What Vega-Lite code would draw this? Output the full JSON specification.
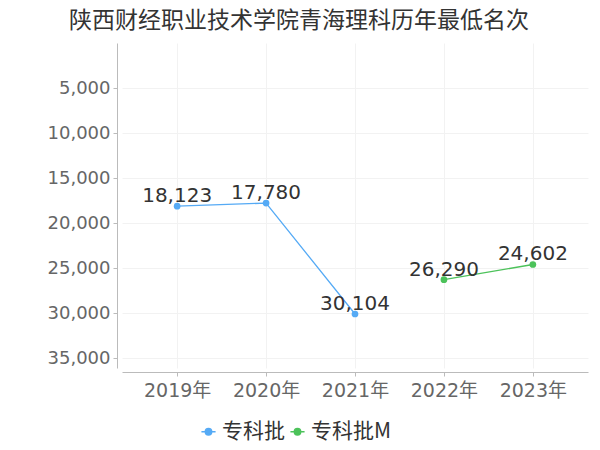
{
  "$schema": "https://vega.github.io/schema/vega-lite/v6.json",
  "autosize": "none",
  "width": 466,
  "height": 325,
  "padding": {"left": 122, "top": 43, "right": 12, "bottom": 82},
  "background": "white",
  "title": {
    "text": "陕西财经职业技术学院青海理科历年最低名次",
    "font": "Noto Sans CJK SC",
    "fontSize": 23,
    "fontWeight": "normal",
    "color": "#333333",
    "anchor": "middle",
    "dx": -56,
    "offset": 10
  },
  "config": {
    "view": {"stroke": null},
    "font": "DejaVu Sans, Noto Sans CJK SC"
  },
  "data": {
    "values": [
      {"year": "2019年", "rank": 18123, "batch": "专科批"},
      {"year": "2020年", "rank": 17780, "batch": "专科批"},
      {"year": "2021年", "rank": 30104, "batch": "专科批"},
      {"year": "2022年", "rank": 26290, "batch": "专科批M"},
      {"year": "2023年", "rank": 24602, "batch": "专科批M"}
    ]
  },
  "encoding": {
    "x": {
      "field": "year",
      "type": "ordinal",
      "scale": {"type": "point", "padding": 0.62},
      "axis": {
        "title": null,
        "offset": 4,
        "labelAngle": 0,
        "labelFontSize": 19,
        "labelColor": "#666666",
        "labelPadding": 5,
        "domainColor": "#bbbbbb",
        "tickColor": "#bbbbbb",
        "tickSize": 4,
        "grid": true,
        "gridColor": "#f2f2f2"
      }
    },
    "y": {
      "field": "rank",
      "type": "quantitative",
      "scale": {"domain": [0, 36100], "reverse": true, "nice": false, "zero": false},
      "axis": {
        "title": null,
        "offset": 5,
        "values": [5000, 10000, 15000, 20000, 25000, 30000, 35000],
        "format": ",d",
        "labelFontSize": 18,
        "labelColor": "#666666",
        "labelPadding": 3,
        "domainColor": "#bbbbbb",
        "tickColor": "#bbbbbb",
        "tickSize": 4,
        "grid": true,
        "gridColor": "#f2f2f2"
      }
    },
    "color": {
      "field": "batch",
      "type": "nominal",
      "scale": {"domain": ["专科批", "专科批M"], "range": ["#55aaf5", "#4cc25a"]},
      "legend": {
        "title": null,
        "orient": "none",
        "direction": "horizontal",
        "legendX": 76,
        "legendY": 378,
        "labelFontSize": 21,
        "labelColor": "#333333",
        "labelFont": "Noto Sans CJK SC",
        "symbolType": "M-1,0L1,0M-0.45,0A0.45,0.45 0 1,1 0.45,0A0.45,0.45 0 1,1 -0.45,0Z",
        "symbolSize": 200,
        "symbolStrokeWidth": 1.5,
        "symbolOpacity": 1,
        "labelOffset": 3,
        "columnPadding": 2,
        "encode": {
          "symbols": {
            "update": {
              "fill": {"scale": "color", "field": "value"},
              "stroke": {"scale": "color", "field": "value"}
            }
          }
        }
      }
    }
  },
  "layer": [
    {"mark": {"type": "line", "strokeWidth": 1.3}},
    {"mark": {"type": "point", "filled": true, "size": 45, "opacity": 1}},
    {
      "mark": {"type": "text", "fontSize": 20, "color": "#333333", "baseline": "alphabetic", "dy": -4},
      "encoding": {
        "text": {"field": "rank", "type": "quantitative", "format": ",d"},
        "color": {"value": "#333333"}
      }
    }
  ]
}
